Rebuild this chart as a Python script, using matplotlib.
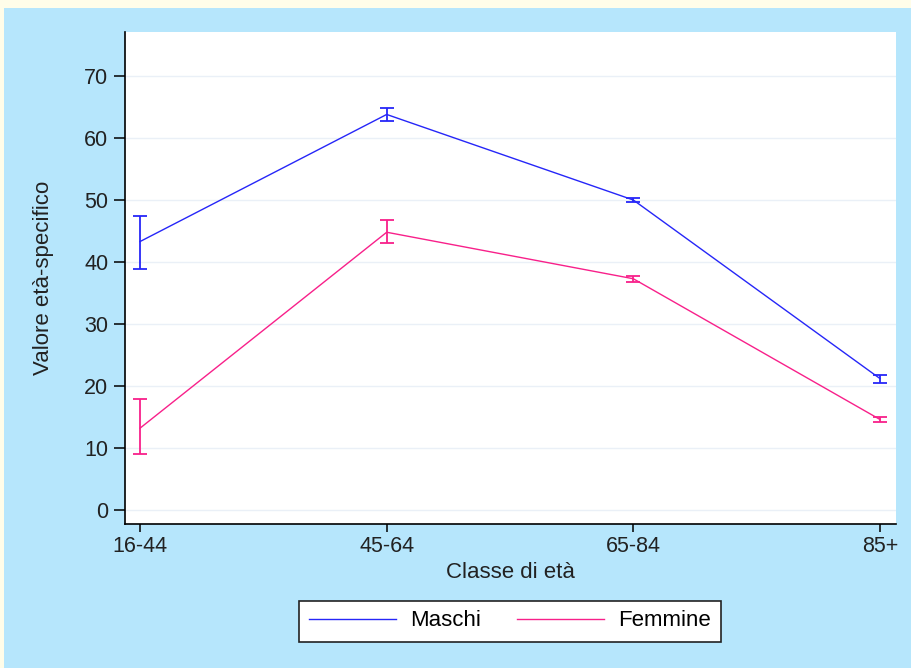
import matplotlib
matplotlib.use("Agg")
import matplotlib.pyplot as plt
from matplotlib.patches import Rectangle

# Age classes and age-specific values with confidence bounds
categories = ["16-44", "45-64", "65-84", "85+"]
maschi = [43.3, 63.8, 50.0, 21.2]
maschi_low = [38.9, 62.8, 49.6, 20.5]
maschi_high = [47.5, 64.8, 50.4, 21.8]
femmine = [13.2, 44.8, 37.3, 14.6]
femmine_low = [9.0, 43.0, 36.7, 14.2]
femmine_high = [17.9, 46.8, 37.8, 15.0]
yticks = [0, 10, 20, 30, 40, 50, 60, 70]

W, H = 912, 668
plt.rcParams["font.family"] = ["Liberation Sans", "DejaVu Sans"]
fig = plt.figure(figsize=(W / 100, H / 100), dpi=100, facecolor="#FFFDE9")

# light-blue panel behind the chart
fig.patches.append(Rectangle((4 / W, 0), 1 - 4 / W, 1 - 8 / H, transform=fig.transFigure,
                             facecolor="#B6E6FC", edgecolor="none", zorder=-5))

ax = fig.add_axes([125 / W, 1 - 524 / H, (896 - 125) / W, (524 - 32) / H])
ax.set_zorder(2)
ax.set_facecolor("white")

x = list(range(len(categories)))
blue = "#2626F8"
pink = "#F8208A"

def draw(vals, lo, hi, color, label):
    ax.plot(x, vals, color=color, lw=1.0, label=label, zorder=3)
    yerr = [[v - l for v, l in zip(vals, lo)], [h - v for v, h in zip(vals, hi)]]
    ax.errorbar(x, vals, yerr=yerr, fmt="none", ecolor=color, elinewidth=1.3,
                capsize=5, capthick=1.3, zorder=3)

draw(maschi, maschi_low, maschi_high, blue, "Maschi")
draw(femmine, femmine_low, femmine_high, pink, "Femmine")

ax.set_xlim(-0.061, 3.065)
ax.set_ylim(-2.26, 77.1)
ax.set_xticks(x)
ax.set_xticklabels(categories)
ax.set_yticks(yticks)
ax.yaxis.grid(True, color="#EAF0F7", lw=1.0)
ax.set_axisbelow(True)

for s in ["top", "right"]:
    ax.spines[s].set_visible(False)
for s in ["left", "bottom"]:
    ax.spines[s].set_color("black")
    ax.spines[s].set_linewidth(1.2)

ax.tick_params(axis="y", length=8, width=1.1, labelsize=15.5, pad=4, colors="black",
               labelcolor="#222222")
ax.tick_params(axis="x", length=6, width=1.1, labelsize=15.5, pad=3, colors="black",
               labelcolor="#222222")

ax.set_ylabel("Valore età-specifico", fontsize=16, color="#222222", labelpad=22)
ax.set_xlabel("Classe di età", fontsize=16, color="#222222", labelpad=3)

leg = fig.legend(loc="center", bbox_to_anchor=(510 / W, 1 - 621 / H), ncol=2,
                 fontsize=16, frameon=True, fancybox=False, handlelength=3.9,
                 columnspacing=1.6, handletextpad=0.65, borderpad=0.45)
leg.set_zorder(3)
leg.get_frame().set_edgecolor("#222222")
leg.get_frame().set_linewidth(1.2)
leg.get_frame().set_facecolor("white")
leg.get_frame().set_alpha(1)

fig.savefig("out.png", dpi=100, facecolor=fig.get_facecolor())
